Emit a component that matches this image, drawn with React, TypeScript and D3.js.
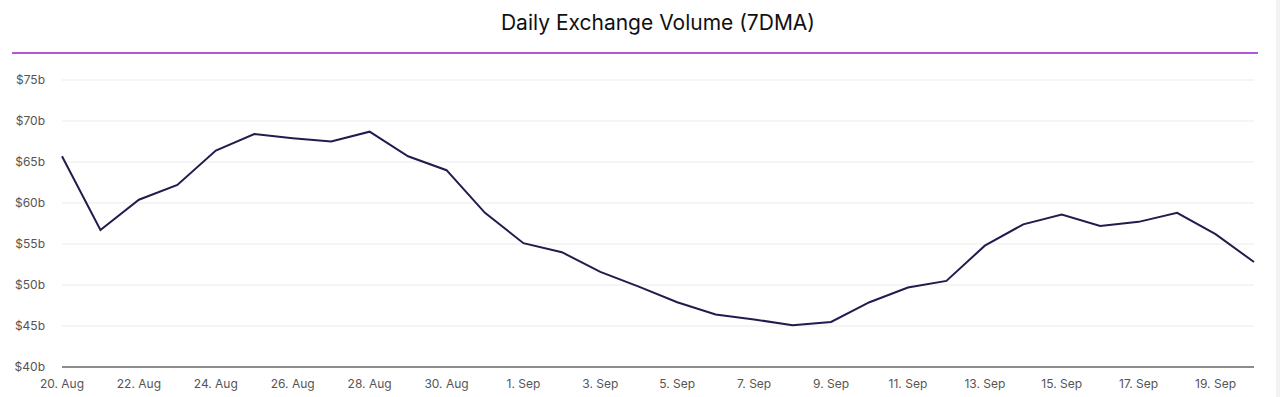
import React from "react";
import * as d3 from "d3";

// Daily exchange volume, 7-day moving average, in $ billions
const dates = [
  "2023-08-20", "2023-08-21", "2023-08-22", "2023-08-23", "2023-08-24",
  "2023-08-25", "2023-08-26", "2023-08-27", "2023-08-28", "2023-08-29",
  "2023-08-30", "2023-08-31", "2023-09-01", "2023-09-02", "2023-09-03",
  "2023-09-04", "2023-09-05", "2023-09-06", "2023-09-07", "2023-09-08",
  "2023-09-09", "2023-09-10", "2023-09-11", "2023-09-12", "2023-09-13",
  "2023-09-14", "2023-09-15", "2023-09-16", "2023-09-17", "2023-09-18",
  "2023-09-19", "2023-09-20",
];
const volume = [
  65.7, 56.7, 60.4, 62.2, 66.4, 68.4, 67.9, 67.5, 68.7, 65.7,
  64.0, 58.8, 55.1, 54.0, 51.6, 49.8, 47.9, 46.4, 45.8, 45.1,
  45.5, 47.9, 49.7, 50.5, 54.8, 57.4, 58.6, 57.2, 57.7, 58.8,
  56.2, 52.8,
];
const yTicks = [40, 45, 50, 55, 60, 65, 70, 75];
const xTickDates = [
  "2023-08-20", "2023-08-22", "2023-08-24", "2023-08-26", "2023-08-28",
  "2023-08-30", "2023-09-01", "2023-09-03", "2023-09-05", "2023-09-07",
  "2023-09-09", "2023-09-11", "2023-09-13", "2023-09-15", "2023-09-17",
  "2023-09-19",
];

const W = 1280;
const H = 397;
const margin = { left: 62, right: 26, top: 80, bottom: 30 };
const FONT = "Inter, 'Noto Sans', sans-serif";

export default function App() {
  const parse = d3.utcParse("%Y-%m-%d");
  const series = dates.map((d, i) => ({ date: parse(d) as Date, value: volume[i] }));

  const x = d3
    .scaleUtc()
    .domain(d3.extent(series, (d) => d.date) as [Date, Date])
    .range([margin.left, W - margin.right]);
  const y = d3
    .scaleLinear()
    .domain([40, 75])
    .range([H - margin.bottom, margin.top]);

  const line = d3
    .line<{ date: Date; value: number }>()
    .x((d) => x(d.date))
    .y((d) => y(d.value));

  const fmtX = d3.utcFormat("%-d. %b");

  return (
    <svg
      width={W}
      height={H}
      style={{ position: "absolute", left: 0, top: 0, background: "#fff" }}
    >
      {/* faint panel edge on the right */}
      <rect x={1276} y={0} width={4} height={H} fill="#f2f2f2" />

      <text
        x={658}
        y={30}
        textAnchor="middle"
        fontFamily={FONT}
        fontSize={21}
        fill="#111"
      >
        Daily Exchange Volume (7DMA)
      </text>
      <line x1={12} x2={1258} y1={53} y2={53} stroke="#9b1ed0" strokeWidth={1.5} />

      {/* grid */}
      {yTicks.map((t) => (
        <g key={t}>
          {t > 40 && (
            <line
              x1={margin.left}
              x2={W - margin.right}
              y1={y(t)}
              y2={y(t)}
              stroke="#ebebeb"
              strokeWidth={1}
            />
          )}
          <text
            x={45}
            y={y(t)}
            dy="0.35em"
            textAnchor="end"
            fontFamily={FONT}
            fontSize={12}
            fill="#555"
          >
            ${t}b
          </text>
        </g>
      ))}

      {/* x axis */}
      <line
        x1={margin.left}
        x2={W - margin.right}
        y1={y(40)}
        y2={y(40)}
        stroke="#666"
        strokeWidth={1.5}
      />
      {xTickDates.map((d) => {
        const dt = parse(d) as Date;
        return (
          <text
            key={d}
            x={x(dt)}
            y={388}
            textAnchor="middle"
            fontFamily={FONT}
            fontSize={12}
            fill="#555"
          >
            {fmtX(dt)}
          </text>
        );
      })}

      <path
        d={line(series) || ""}
        fill="none"
        stroke="#221c4e"
        strokeWidth={2}
        strokeLinejoin="miter"
      />
    </svg>
  );
}
